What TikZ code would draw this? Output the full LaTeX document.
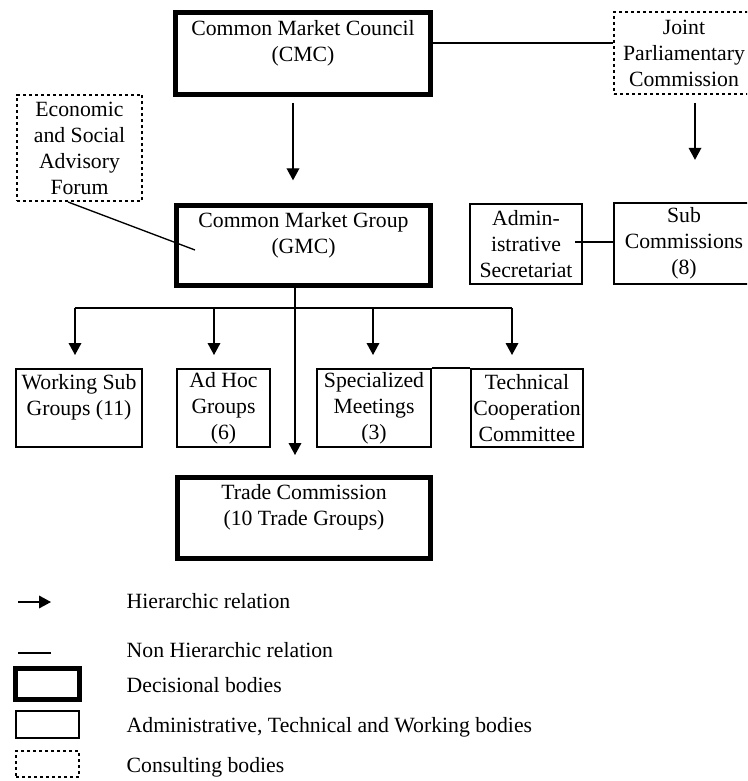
\documentclass[tikz,border=0pt]{standalone}
\usepackage{fontspec}
\setmainfont{Liberation Serif}
\usetikzlibrary{arrows.meta,calc}

\tikzset{
  body/.style={align=center, inner xsep=0pt, inner ysep=0pt,
    font=\fontsize{16.3}{19.5}\selectfont},
  decisional/.style={body, draw, line width=3.75pt},
  working/.style={body, draw, line width=1.5pt},
  consulting/.style={body, draw, line width=1.5pt, dash pattern=on 2.2pt off 2.3pt},
  hier/.style={line width=1pt, -{Triangle[width=9.5pt,length=9pt]}},
  nonhier/.style={line width=1pt},
  legend/.style={anchor=base west, font=\fontsize{16.3}{19.5}\selectfont},
}

\begin{document}
\begin{tikzpicture}[x=0.75pt, y=-0.75pt]
        \useasboundingbox (0,0) rectangle (747,781);
        \clip (0,0) rectangle (747,781);

        % bodies
        \node[decisional, minimum width=191pt, minimum height=61.5pt] (cmc) at (303,53.5) {Common Market Council\\(CMC)\\\mbox{}};
        \node[consulting, minimum width=105pt, minimum height=61.5pt] (jpc) at (684,53) {Joint\\Parliamentary\\Commission};
        \node[consulting, minimum width=94pt, minimum height=79.5pt] (esaf) at (79.5,148) {Economic\\and Social\\Advisory\\Forum};
        \node[decisional, minimum width=190.5pt, minimum height=60pt] (gmc) at (303.5,245.5) {Common Market Group\\(GMC)\\\mbox{}};
        \node[working, minimum width=84pt, minimum height=60pt] (adm) at (526,244) {Admin-\\istrative\\Secretariat};
        \node[working, minimum width=105pt, minimum height=61pt] (subc) at (684,243.5) {Sub\\Commissions\\(8)};
        \node[working, minimum width=94.5pt, minimum height=58.5pt] (wsg) at (79,408) {Working Sub\\Groups (11)\\\mbox{}};
        \node[working, minimum width=69.75pt, minimum height=58.5pt] (adhoc) at (223.5,408) {Ad Hoc\\Groups\\(6)};
        \node[working, minimum width=85.5pt, minimum height=58.5pt] (spm) at (374,408) {Specialized\\Meetings\\(3)};
        \node[working, minimum width=84pt, minimum height=58.5pt] (tcc) at (527,408) {Technical\\Cooperation\\Committee};
        \node[decisional, minimum width=189.75pt, minimum height=60.75pt] (trade) at (304,518) {Trade Commission\\(10 Trade Groups)\\\mbox{}};

        % relations
        \draw[nonhier] ($(cmc.east)+(0,-10.5)$) -- ($(jpc.west)+(0,-10)$);
        \draw[hier, shorten <=4.5pt, shorten >=17pt] ($(cmc.south)+(-10,0)$) -- ($(gmc.north)+(-10.5,0)$);
        \draw[hier, shorten <=6pt, shorten >=31.5pt] ($(jpc.south)+(11,0)$) -- ($(subc.north)+(11,0)$);
        \draw[nonhier] ($(esaf.south)+(-11.5,0)$) -- ($(gmc.west)+(21,4.5)$);
        \draw[nonhier] ($(adm.east)+(-8,-2)$) -- ($(subc.west)+(0,-1.5)$);
        \draw[hier, shorten >=15pt] ($(gmc.south)+(-8.5,0)$) -- ($(trade.north)+(-9,0)$);

        \coordinate (bus) at (0,308);
        \draw[nonhier] ($(wsg.north |- bus)+(-4.4,0)$) -- ($(tcc.north |- bus)+(-14.6,0)$);
        \foreach \n/\dx in {wsg/-4, adhoc/-9.5, spm/-1, tcc/-15}
            \draw[hier, shorten >=9.75pt] ($(\n.north |- bus)+(\dx,0)$) -- ($(\n.north)+(\dx,0)$);
        \draw[nonhier] (spm.north east) -- (tcc.north west);

        % legend
        \coordinate (ha) at (18,602);
        \coordinate (hb) at (51,602);
        \coordinate (na) at (18,653);
        \coordinate (nb) at (51,653);
        \draw[hier] (ha) -- (hb);
        \draw[nonhier] (na) -- (nb);
        \node[decisional, minimum width=48pt, minimum height=23.25pt] (kdec) at (47.5,684) {};
        \node[working, minimum width=47.25pt, minimum height=20.25pt] (kwork) at (47.5,724.5) {};
        \node[consulting, minimum width=47.25pt, minimum height=19.5pt] (kcons) at (47.5,764) {};

        \node[legend] (thier) at (122,608) {Hierarchic relation};
        \node[legend] (tnon) at (122,657) {Non Hierarchic relation};
        \node[legend] (tdec) at (122,692) {Decisional bodies};
        \node[legend] (twork) at (122,732) {Administrative, Technical and Working bodies};
        \node[legend] (tcons) at (122,772) {Consulting bodies};
\end{tikzpicture}
\end{document}
